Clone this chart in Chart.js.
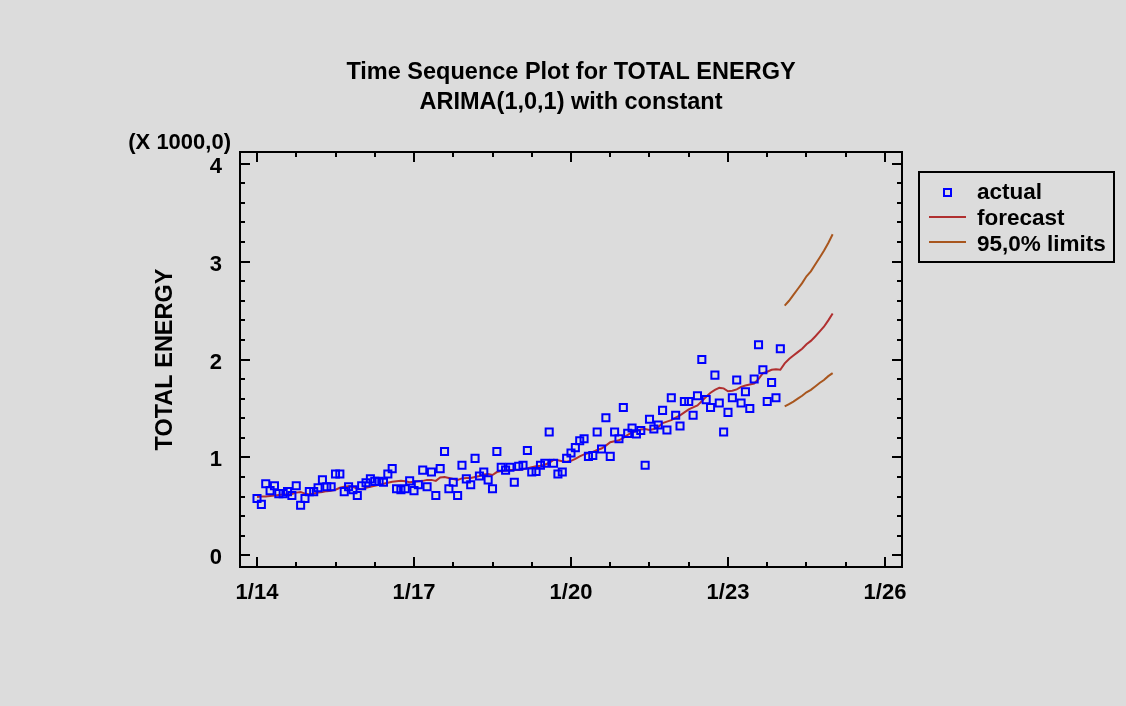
<!DOCTYPE html>
<html><head><meta charset="utf-8">
<script src="https://cdn.jsdelivr.net/npm/chart.js@4.4.1/dist/chart.umd.min.js"></script>
<style>html,body{margin:0;padding:0;background:#dcdcdc;}canvas{display:block;}</style>
</head><body>
<canvas id="c" width="1126" height="706"></canvas>
<script>
// ---- texts ----
const titleLines = ['Time Sequence Plot for TOTAL ENERGY', 'ARIMA(1,0,1) with constant'];
const yAxisTitle = 'TOTAL ENERGY';
const yScaleNote = '(X 1000,0)';
const legendLabels = ['actual', 'forecast', '95,0% limits'];

// ---- ticks (x = months since Jan 2014) ----
const xTickValues = [0, 36, 72, 108, 144];
const xTickLabels = ['1/14', '1/17', '1/20', '1/23', '1/26'];
const yTickValues = [0, 1000, 2000, 3000, 4000];
const yTickLabels = ['0', '1', '2', '3', '4'];

// ---- data ----
// actual monthly values, Jan 2014 .. Jan 2024
const actual = [
  580, 520, 730, 660, 710, 630, 630, 650, 610, 710, 510, 580, 650, 650, 690, 770, 700, 700, 830, 830,
  650, 700, 670, 610, 710, 740, 780, 755, 755,
  745, 830, 885, 680, 670, 680, 760, 660, 720, 870, 700, 850, 610, 885, 1060, 680, 745, 610, 920, 780,
  720, 990, 810, 850, 770, 680, 1060, 900, 870, 900, 745,
  910, 920, 1070, 850, 855, 920, 940, 1260, 940, 830, 850, 990, 1045, 1100, 1170, 1190, 1010, 1020, 1260,
  1085, 1405, 1010, 1260, 1190, 1510, 1245, 1300, 1240, 1275, 920, 1390, 1290,
  1330, 1480, 1280, 1610, 1430, 1320, 1570, 1570, 1430, 1630, 2000, 1590, 1510, 1840, 1555, 1260, 1460,
  1610, 1790, 1555, 1670, 1500, 1800, 2150, 1895, 1570, 1765, 1610, 2110
];
// one-step-ahead fitted values, Jan 2014 .. Jan 2024
const fitted = [
  596, 600, 600, 605, 610, 615, 620, 620, 625, 640,
  645, 630, 620, 630, 640, 645, 655, 660, 670, 690,
  700, 705, 700, 680, 675, 690, 700, 710, 720, 730,
  740, 750, 755, 760, 755, 745, 750, 755, 760, 770,
  770, 760, 795, 800, 790, 780, 770, 785, 790, 790,
  800, 810, 825, 830, 820, 850, 860, 865, 870, 870,
  872, 878, 890, 900, 910, 915, 925, 945, 975, 970,
  960, 955, 965, 985, 1010, 1030, 1045, 1055, 1075, 1090,
  1120, 1155, 1165, 1175, 1200, 1230, 1255, 1270, 1285, 1290,
  1280, 1290, 1310, 1350, 1365, 1380, 1405, 1430, 1460, 1490,
  1510, 1530, 1575, 1620, 1660, 1690, 1710, 1705, 1675, 1680,
  1695, 1720, 1735, 1745, 1755, 1800, 1860, 1875, 1895, 1900,
  1895
];
// forecasts and 95% limits, Feb 2024 .. Jan 2025
const forecast = [1960, 2005, 2040, 2075, 2110, 2155, 2190, 2235, 2285, 2335, 2400, 2470];
const upper    = [2550, 2600, 2660, 2720, 2780, 2850, 2900, 2970, 3040, 3110, 3190, 3280];
const lower    = [1520, 1545, 1570, 1600, 1630, 1665, 1690, 1725, 1760, 1790, 1830, 1860];

// ---- style ----
const FONT_FAMILY = '"Liberation Sans", Arial, sans-serif';
const TICK_SIZE = 22;
const TITLE_SIZE = 23.5;
const LEGEND_SIZE = 22.5;
const BLUE = '#0000ff';
const RED = '#b03030';
const BROWN = '#a8561e';

const actualPts = actual.map((v, i) => ({x: i, y: v}));
const forecastPts = fitted.map((v, i) => ({x: i, y: v}))
  .concat(forecast.map((v, i) => ({x: actual.length + i, y: v})));
const upperPts = upper.map((v, i) => ({x: actual.length + i, y: v}));
const lowerPts = lower.map((v, i) => ({x: actual.length + i, y: v}));

const tickFont = {family: FONT_FAMILY, size: TICK_SIZE, weight: 'bold'};
const titleFont = {family: FONT_FAMILY, size: TITLE_SIZE, weight: 'bold'};

const decorPlugin = {
  id: 'decor',
  afterDraw(chart) {
    const {ctx, chartArea: a, scales: {x, y}} = chart;
    ctx.save();
    // frame
    ctx.strokeStyle = '#000';
    ctx.lineWidth = 2;
    ctx.strokeRect(a.left, a.top, a.right - a.left, a.bottom - a.top);
    // ticks (inward, on all four sides)
    ctx.beginPath();
    for (let m = 0; m <= 144; m += 9) {
      const px = Math.round(x.getPixelForValue(m));
      const len = (m % 36 === 0) ? 10 : 5;
      ctx.moveTo(px, a.bottom); ctx.lineTo(px, a.bottom - len);
      ctx.moveTo(px, a.top); ctx.lineTo(px, a.top + len);
    }
    for (let v = 0; v <= 4000; v += 200) {
      const py = Math.round(y.getPixelForValue(v));
      const len = (v % 1000 === 0) ? 10 : 5;
      ctx.moveTo(a.left, py); ctx.lineTo(a.left + len, py);
      ctx.moveTo(a.right, py); ctx.lineTo(a.right - len, py);
    }
    ctx.stroke();

    ctx.fillStyle = '#000';
    // titles
    ctx.font = 'bold ' + TITLE_SIZE + 'px ' + FONT_FAMILY;
    ctx.textAlign = 'center';
    ctx.textBaseline = 'middle';
    const cx = (a.left + a.right) / 2;
    ctx.fillText(titleLines[0], cx, 73);
    ctx.fillText(titleLines[1], cx, 103);
    // scale note
    ctx.font = 'bold ' + TICK_SIZE + 'px ' + FONT_FAMILY;
    ctx.textAlign = 'right';
    ctx.fillText(yScaleNote, 231, 143);

    // legend
    const lx = 919, ly = 172, lw = 195, lh = 90;
    ctx.lineWidth = 2;
    ctx.strokeStyle = '#000';
    ctx.strokeRect(lx, ly, lw, lh);
    const rows = [193, 219, 245];
    ctx.font = 'bold ' + LEGEND_SIZE + 'px ' + FONT_FAMILY;
    ctx.textAlign = 'left';
    legendLabels.forEach((t, i) => ctx.fillText(t, 977, rows[i]));
    // symbols
    ctx.strokeStyle = BLUE;
    ctx.lineWidth = 2;
    ctx.strokeRect(944, rows[0] - 4, 7, 7);
    ctx.strokeStyle = RED;
    ctx.beginPath(); ctx.moveTo(929, 217); ctx.lineTo(966, 217); ctx.stroke();
    ctx.strokeStyle = BROWN;
    ctx.beginPath(); ctx.moveTo(929, 242); ctx.lineTo(966, 242); ctx.stroke();
    ctx.restore();
  }
};

new Chart(document.getElementById('c'), {
  type: 'scatter',
  data: {
    datasets: [
      {label: legendLabels[0], data: actualPts, showLine: false, pointStyle: 'rect',
       pointRadius: 5, pointHoverRadius: 5, pointBorderColor: BLUE, pointBackgroundColor: 'rgba(0,0,0,0)',
       pointBorderWidth: 2, order: 0},
      {label: legendLabels[1], data: forecastPts, showLine: true, borderColor: RED, borderWidth: 2,
       pointRadius: 0, tension: 0, order: 1},
      {label: legendLabels[2], data: upperPts, showLine: true, borderColor: BROWN, borderWidth: 2,
       pointRadius: 0, tension: 0, order: 2},
      {label: legendLabels[2] + ' (lower)', data: lowerPts, showLine: true, borderColor: BROWN, borderWidth: 2,
       pointRadius: 0, tension: 0, order: 2}
    ]
  },
  options: {
    responsive: false,
    animation: false,
    devicePixelRatio: 1,
    layout: {padding: {left: 150, top: 152, right: 224, bottom: 0}},
    plugins: {legend: {display: false}, title: {display: false}, tooltip: {enabled: false}},
    scales: {
      x: {
        type: 'linear', min: -3.9, max: 147.9,
        grid: {display: false}, border: {display: false},
        afterBuildTicks: s => { s.ticks = xTickValues.map(v => ({value: v})); },
        ticks: {callback: v => xTickLabels[xTickValues.indexOf(v)], font: tickFont, color: '#000',
                padding: 5, maxRotation: 0, autoSkip: false},
        afterFit: s => { s.height = 139; }
      },
      y: {
        type: 'linear', min: -120, max: 4120,
        grid: {display: false}, border: {display: false},
        afterBuildTicks: s => { s.ticks = yTickValues.map(v => ({value: v})); },
        ticks: {callback: v => yTickLabels[yTickValues.indexOf(v)], font: tickFont, color: '#000',
                padding: 10, labelOffset: 3},
        title: {display: true, text: yAxisTitle, font: titleFont, color: '#000', padding: {top: 1, bottom: 0}},
        afterFit: s => { s.width = 90; }
      }
    }
  },
  plugins: [decorPlugin]
});
</script>
</body></html>
